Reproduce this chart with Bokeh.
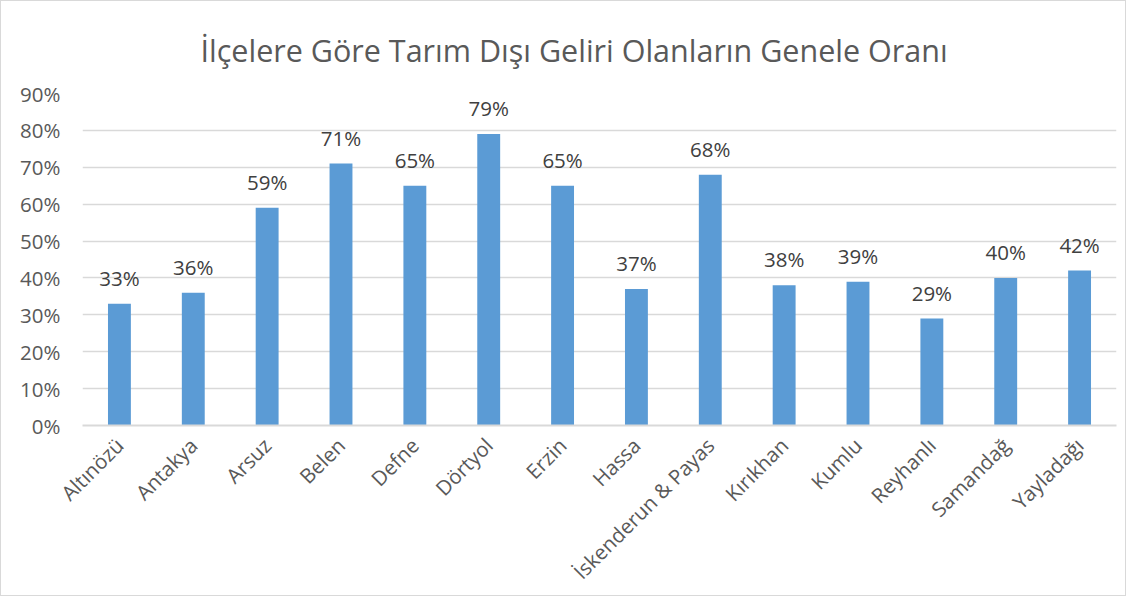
from bokeh.plotting import figure
from bokeh.models import ColumnDataSource, LabelSet, FixedTicker, PrintfTickFormatter, Range1d
from bokeh.core.properties import value
from bokeh.embed import file_html
from bokeh.resources import INLINE
import math

districts = ["Altınözü", "Antakya", "Arsuz", "Belen", "Defne", "Dörtyol", "Erzin", "Hassa",
             "İskenderun & Payas", "Kırıkhan", "Kumlu", "Reyhanlı", "Samandağ", "Yayladağı"]
shares = [33, 36, 59, 71, 65, 79, 65, 37, 68, 38, 39, 29, 40, 42]
y_ticks = [0, 10, 20, 30, 40, 50, 60, 70, 80, 90]
title_text = "İlçelere Göre Tarım Dışı Geliri Olanların Genele Oranı"

FONT = "Open Sans"
GRAY = "#595959"

source = ColumnDataSource(dict(
    x=districts,
    y=shares,
    label=[f"{v}%" for v in shares],
))

p = figure(x_range=districts, y_range=Range1d(0, 90),
           width=1126, height=596, output_backend="svg", toolbar_location=None,
           title=title_text,
           min_border_left=81, min_border_right=11, min_border_top=92, min_border_bottom=171)

p.vbar(x="x", top="y", width=0.31, source=source, fill_color="#5B9BD5", line_color=None)

labels = LabelSet(x="x", y="y", text="label", source=source, text_align="center",
                  text_baseline="bottom", y_offset=12, text_font=value(FONT),
                  text_font_size="20.5px", text_color="#404040")
p.add_layout(labels)

p.title.text_font = FONT
p.title.text_font_size = "30.5px"
p.title.text_font_style = "normal"
p.title.text_color = GRAY
p.title.align = "left"
p.title.offset = 118
p.title.standoff = 46

p.yaxis.ticker = FixedTicker(ticks=y_ticks)
p.yaxis.formatter = PrintfTickFormatter(format="%d%%")
p.yaxis.axis_line_color = None
p.yaxis.major_tick_line_color = None
p.yaxis.minor_tick_line_color = None
p.yaxis.major_label_text_font = FONT
p.yaxis.major_label_text_font_size = "20.5px"
p.yaxis.major_label_text_color = GRAY
p.yaxis.major_label_standoff = 16

p.xaxis.axis_line_color = "#d9d9d9"
p.xaxis.axis_line_width = 2
p.xaxis.major_tick_line_color = None
p.xaxis.minor_tick_line_color = None
p.xaxis.major_label_orientation = math.pi / 4
p.xaxis.major_label_text_font = FONT
p.xaxis.major_label_text_font_size = "20.5px"
p.xaxis.major_label_text_color = GRAY
p.xaxis.major_label_standoff = 10

p.xgrid.grid_line_color = None
p.ygrid.grid_line_color = "#d9d9d9"
p.ygrid.grid_line_width = 1.5
p.outline_line_color = None
p.background_fill_color = "white"
p.border_fill_color = "white"
p.styles = {"border": "1px solid #d9d9d9"}

open("out.html", "w").write(file_html(p, INLINE))
